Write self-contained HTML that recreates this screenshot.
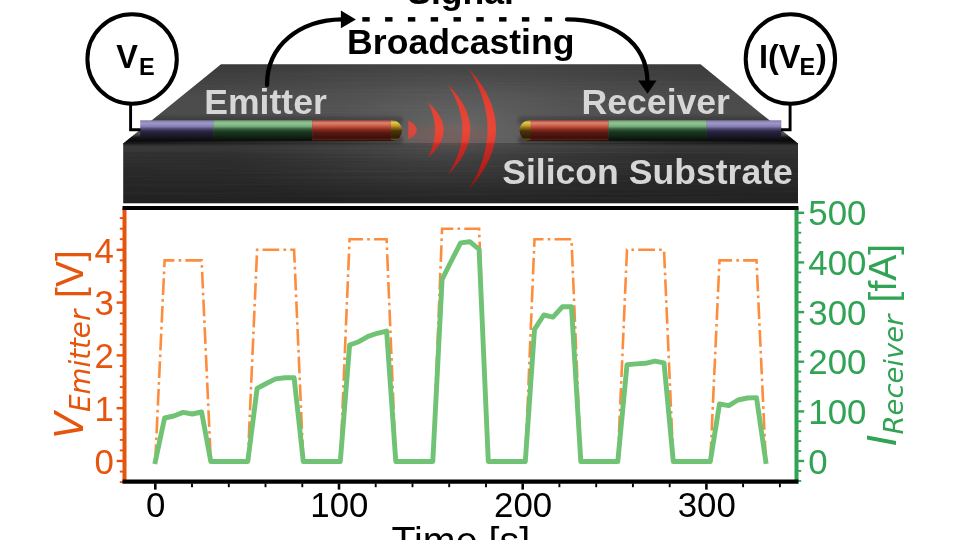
<!DOCTYPE html>
<html lang="en"><head><meta charset="utf-8"><title>Signal Broadcasting</title>
<style>
html,body{margin:0;padding:0;background:#fff;}
body{width:960px;height:540px;overflow:hidden;}
svg{display:block;will-change:transform;}
text{font-family:"Liberation Sans",Arial,Helvetica,sans-serif;}
.b{font-weight:bold;}
.dj{font-family:"DejaVu Sans","Liberation Sans",sans-serif;font-style:oblique;}
</style></head><body>
<svg width="960" height="540" viewBox="0 0 960 540">
<defs>
<linearGradient id="gTop" x1="0" y1="0" x2="0" y2="1"><stop offset="0" stop-color="#393939"/><stop offset="0.4" stop-color="#4a4a4a"/><stop offset="1" stop-color="#515151"/></linearGradient>
<radialGradient id="gHi" gradientUnits="userSpaceOnUse" cx="460" cy="128" r="260" gradientTransform="translate(0,128) scale(1,0.42) translate(0,-128)"><stop offset="0" stop-color="#7c7c7c" stop-opacity="0.55"/><stop offset="0.5" stop-color="#6a6a6a" stop-opacity="0.22"/><stop offset="1" stop-color="#606060" stop-opacity="0"/></radialGradient>
<linearGradient id="gFront" x1="0" y1="0" x2="0" y2="1"><stop offset="0" stop-color="#3a3a3a"/><stop offset="0.22" stop-color="#2d2d2d"/><stop offset="0.6" stop-color="#272727"/><stop offset="1" stop-color="#202020"/></linearGradient>
<radialGradient id="gHiF" gradientUnits="userSpaceOnUse" cx="450" cy="143" r="230" gradientTransform="translate(0,143) scale(1,0.3) translate(0,-143)"><stop offset="0" stop-color="#808080" stop-opacity="0.32"/><stop offset="1" stop-color="#606060" stop-opacity="0"/></radialGradient>
<linearGradient id="gP" x1="0" y1="0" x2="0" y2="1"><stop offset="0" stop-color="#7d77a8"/><stop offset="0.14" stop-color="#9f98c9"/><stop offset="0.3" stop-color="#857eb2"/><stop offset="0.42" stop-color="#4a4570"/><stop offset="0.55" stop-color="#29253f"/><stop offset="0.85" stop-color="#15131f"/><stop offset="1" stop-color="#0a0a0e"/></linearGradient>
<linearGradient id="gG" x1="0" y1="0" x2="0" y2="1"><stop offset="0" stop-color="#6f9f73"/><stop offset="0.14" stop-color="#93c596"/><stop offset="0.3" stop-color="#74aa79"/><stop offset="0.42" stop-color="#37603c"/><stop offset="0.55" stop-color="#1c3a22"/><stop offset="0.85" stop-color="#0e1d12"/><stop offset="1" stop-color="#070d08"/></linearGradient>
<linearGradient id="gR" x1="0" y1="0" x2="0" y2="1"><stop offset="0" stop-color="#a84a38"/><stop offset="0.13" stop-color="#de8470"/><stop offset="0.3" stop-color="#c25444"/><stop offset="0.44" stop-color="#8c2e22"/><stop offset="0.58" stop-color="#5c1a12"/><stop offset="0.86" stop-color="#3a100a"/><stop offset="0.94" stop-color="#5a1c14"/><stop offset="1" stop-color="#1c0705"/></linearGradient>
<linearGradient id="gAu" x1="0" y1="0" x2="0" y2="1"><stop offset="0" stop-color="#8a7424"/><stop offset="0.1" stop-color="#e0cc50"/><stop offset="0.25" stop-color="#c8a22a"/><stop offset="0.38" stop-color="#8a6814"/><stop offset="0.52" stop-color="#4a340a"/><stop offset="0.85" stop-color="#2e1f06"/><stop offset="0.94" stop-color="#6a4e10"/><stop offset="1" stop-color="#140d03"/></linearGradient>
<linearGradient id="gW" gradientUnits="userSpaceOnUse" x1="0" y1="66" x2="0" y2="192"><stop offset="0" stop-color="#c8241c"/><stop offset="0.25" stop-color="#e93c2e"/><stop offset="0.5" stop-color="#ef4636"/><stop offset="0.6" stop-color="#e93e30"/><stop offset="0.62" stop-color="#d02a24"/><stop offset="0.8" stop-color="#bc1e18"/><stop offset="1" stop-color="#8c110c"/></linearGradient>
<linearGradient id="shL" x1="0" y1="0" x2="1" y2="0"><stop offset="0" stop-color="#050505" stop-opacity="0.9"/><stop offset="0.5" stop-color="#050505" stop-opacity="0.6"/><stop offset="1" stop-color="#050505" stop-opacity="0.25"/></linearGradient>
<linearGradient id="shR" x1="1" y1="0" x2="0" y2="0"><stop offset="0" stop-color="#050505" stop-opacity="0.9"/><stop offset="0.5" stop-color="#050505" stop-opacity="0.6"/><stop offset="1" stop-color="#050505" stop-opacity="0.25"/></linearGradient>
<clipPath id="slabClip"><polygon points="221,64.3 700.5,64.3 798,143.5 798,203.3 123.2,203.3 123.2,143.5"/></clipPath>
<filter id="brush" x="0" y="0" width="100%" height="100%"><feTurbulence type="fractalNoise" baseFrequency="0.004 0.9" numOctaves="2" seed="3" result="n"/><feColorMatrix in="n" type="matrix" values="0 0 0 0 1  0 0 0 0 1  0 0 0 0 1  0.9 0 0 0 -0.38"/><feComposite operator="in" in2="SourceGraphic"/></filter>
<filter id="soft" x="-20%" y="-50%" width="140%" height="200%"><feGaussianBlur stdDeviation="1.6"/></filter>
<filter id="glow" x="-50%" y="-50%" width="200%" height="200%"><feGaussianBlur stdDeviation="3"/></filter>
</defs>
<rect width="960" height="540" fill="#fff"/>

<g id="slab">
<polygon points="221,64.3 700.5,64.3 798,143.5 123.2,143.5" fill="url(#gTop)"/>
<polygon points="221,64.3 700.5,64.3 798,143.5 123.2,143.5" fill="url(#gHi)"/>
<rect x="123.2" y="143" width="674.8" height="60.3" fill="url(#gFront)"/>
<rect x="123.2" y="143" width="674.8" height="60.3" fill="url(#gHiF)"/>
<rect x="123.2" y="143" width="674.8" height="60.3" fill="#fff" opacity="0.10" filter="url(#brush)"/>
<polygon points="221,64.3 700.5,64.3 798,143.5 123.2,143.5" fill="#fff" opacity="0.05" filter="url(#brush)"/>
</g>
<g clip-path="url(#slabClip)">
<rect x="139" y="116.5" width="264" height="8" rx="4" fill="#1a1a1a" opacity="0.3" filter="url(#soft)"/>
<rect x="518" y="116.5" width="264" height="8" rx="4" fill="#1a1a1a" opacity="0.3" filter="url(#soft)"/>
<rect x="112" y="136" width="291" height="8" rx="4" fill="url(#shL)" filter="url(#soft)"/>
<rect x="518" y="136" width="291" height="8" rx="4" fill="url(#shR)" filter="url(#soft)"/>
<ellipse cx="448" cy="135" rx="45" ry="10" fill="#ff4030" opacity="0.09" filter="url(#glow)"/>
</g>
<g id="emitter">
<rect x="140.2" y="120.3" width="73.0" height="20.6" fill="url(#gP)"/>
<rect x="213.2" y="120.3" width="99.0" height="20.6" fill="url(#gG)"/>
<rect x="312.2" y="120.3" width="79.8" height="20.6" fill="url(#gR)"/>
<path d="M391,120.3 h1.5 a9.5,10.30 0 0 1 0,20.6 h-1.5 z" fill="url(#gAu)"/>
</g><g id="receiver">
<rect x="529.5" y="120.3" width="79.0" height="20.6" fill="url(#gR)"/>
<rect x="608.5" y="120.3" width="98.3" height="20.6" fill="url(#gG)"/>
<rect x="706.8" y="120.3" width="74.5" height="20.6" fill="url(#gP)"/>
<path d="M530.5,120.3 h-1.5 a9.5,10.30 0 0 0 0,20.6 h1.5 z" fill="url(#gAu)"/>
</g>
<g id="waves" fill="url(#gW)">
<path d="M408.3,120.5 Q416.5,124.5 416.8,130 Q416.5,135.5 408.3,139.3 Z" opacity="0.85"/>
<path d="M428,102.3 Q459.5,130 428,157.7 Q442,130 428,102.3 Z" opacity="0.95"/>
<path d="M448,84.8 Q492.5,130 448,174.7 Q477,130 448,84.8 Z" opacity="0.95"/>
<path d="M468.5,68.3 Q523.5,129 468.5,189.7 Q506.5,129 468.5,68.3 Z" opacity="0.95"/>
</g>
<g class="b" fill="#d6d6d6" font-size="35.6">
<text x="204.2" y="114.2">Emitter</text>
<text x="581.6" y="114.4">Receiver</text>
<text x="502.2" y="184">Silicon Substrate</text>
</g>
<g fill="none" stroke="#000" stroke-width="4">
<circle cx="132.1" cy="59" r="44.7" fill="#fff"/>
<circle cx="790.4" cy="59" r="44.7" fill="#fff"/>
</g><g fill="none" stroke="#000" stroke-width="2.9" stroke-linejoin="miter">
<polyline points="130.6,104 130.6,129.7 140.5,129.7"/>
<polyline points="790.1,104 790.1,129.7 781,129.7"/>
</g>
<g class="b" fill="#000">
<text x="116.2" y="68" font-size="32.5">V<tspan font-size="23.5" dy="7.3" dx="1.2">E</tspan></text>
<text x="759" y="68" font-size="32.5">I(V<tspan font-size="23.5" dy="7.3" dx="-1">E</tspan><tspan dy="-7.3" dx="0.8">)</tspan></text>
</g>
<g fill="none" stroke="#000" stroke-width="4.3" stroke-linecap="round">
<path d="M267,85 C267,45 300,20 342,19.4"/>
<path d="M567,19.4 C610,19.4 647,40 647.5,82"/>
</g>
<polygon points="340.9,10.5 355.9,19.4 340.9,28.3" fill="#000"/>
<polygon points="638.1,80.6 656.5,80.6 647.6,93.8" fill="#000"/>
<g fill="#000">
<rect x="362.3" y="17.1" width="7.4" height="4.5"/>
<rect x="385.1" y="17.1" width="7.4" height="4.5"/>
<rect x="407.9" y="17.1" width="7.4" height="4.5"/>
<rect x="430.7" y="17.1" width="7.4" height="4.5"/>
<rect x="453.5" y="17.1" width="7.4" height="4.5"/>
<rect x="476.3" y="17.1" width="7.4" height="4.5"/>
<rect x="499.1" y="17.1" width="7.4" height="4.5"/>
<rect x="521.9" y="17.1" width="7.4" height="4.5"/>
<rect x="544.7" y="17.1" width="7.4" height="4.5"/>
</g>
<g class="b" fill="#000" font-size="35.6" text-anchor="middle">
<text x="460.6" y="4">Signal</text>
<text x="460.8" y="54.3">Broadcasting</text>
</g>
<g id="chart">
<rect x="124.5" y="208" width="672" height="274" fill="#fff"/>
<polyline points="155.3,461.0 155.3,461.0 164.6,260.4 201.6,260.4 210.8,461.0 247.8,461.0 257.1,249.8 294.1,249.8 303.3,461.0 340.3,461.0 349.6,239.2 386.6,239.2 395.8,461.0 432.8,461.0 442.1,228.7 479.1,228.7 488.3,461.0 525.3,461.0 534.5,239.2 571.5,239.2 580.8,461.0 617.8,461.0 627.0,249.8 664.0,249.8 673.3,461.0 710.3,461.0 719.5,260.4 756.5,260.4 765.8,461.0" fill="none" stroke="#fd8d3c" stroke-width="2.6" stroke-dasharray="16.7 4.2 2.6 4.2" stroke-linejoin="miter"/>
<polyline points="155.3,461.5 164.6,418.0 173.8,416.0 183.1,412.4 192.3,414.0 201.6,412.0 210.8,461.5 247.8,461.5 257.1,388.4 266.3,383.5 275.6,378.9 284.8,377.8 294.1,377.8 303.3,461.5 340.3,461.5 349.6,345.0 358.8,341.7 368.1,336.4 377.3,333.3 386.6,331.1 395.8,461.5 432.8,461.5 442.1,279.4 451.3,261.0 460.6,242.9 469.8,241.7 479.1,249.4 488.3,461.5 525.3,461.5 534.5,329.4 543.8,315.0 553.0,317.2 562.3,306.8 571.5,306.8 580.8,461.5 617.8,461.5 627.0,364.7 636.3,363.9 645.5,363.3 654.8,361.1 664.0,362.8 673.3,461.5 710.3,461.5 719.5,404.0 728.8,405.6 738.0,400.0 747.3,398.0 756.5,397.6 765.8,461.5" fill="none" stroke="#70c374" stroke-width="4.9" stroke-linejoin="round" stroke-linecap="square"/>
<g stroke="#e6550d" fill="none">
<line x1="119.8" x2="123" y1="482.1" y2="482.1" stroke-width="1.9"/>
<line x1="119.8" x2="123" y1="471.6" y2="471.6" stroke-width="1.9"/>
<line x1="116.6" x2="123" y1="461.0" y2="461.0" stroke-width="2.4"/>
<line x1="119.8" x2="123" y1="450.4" y2="450.4" stroke-width="1.9"/>
<line x1="119.8" x2="123" y1="439.9" y2="439.9" stroke-width="1.9"/>
<line x1="119.8" x2="123" y1="429.3" y2="429.3" stroke-width="1.9"/>
<line x1="119.8" x2="123" y1="418.8" y2="418.8" stroke-width="1.9"/>
<line x1="116.6" x2="123" y1="408.2" y2="408.2" stroke-width="2.4"/>
<line x1="119.8" x2="123" y1="397.6" y2="397.6" stroke-width="1.9"/>
<line x1="119.8" x2="123" y1="387.1" y2="387.1" stroke-width="1.9"/>
<line x1="119.8" x2="123" y1="376.5" y2="376.5" stroke-width="1.9"/>
<line x1="119.8" x2="123" y1="366.0" y2="366.0" stroke-width="1.9"/>
<line x1="116.6" x2="123" y1="355.4" y2="355.4" stroke-width="2.4"/>
<line x1="119.8" x2="123" y1="344.8" y2="344.8" stroke-width="1.9"/>
<line x1="119.8" x2="123" y1="334.3" y2="334.3" stroke-width="1.9"/>
<line x1="119.8" x2="123" y1="323.7" y2="323.7" stroke-width="1.9"/>
<line x1="119.8" x2="123" y1="313.2" y2="313.2" stroke-width="1.9"/>
<line x1="116.6" x2="123" y1="302.6" y2="302.6" stroke-width="2.4"/>
<line x1="119.8" x2="123" y1="292.0" y2="292.0" stroke-width="1.9"/>
<line x1="119.8" x2="123" y1="281.5" y2="281.5" stroke-width="1.9"/>
<line x1="119.8" x2="123" y1="270.9" y2="270.9" stroke-width="1.9"/>
<line x1="119.8" x2="123" y1="260.4" y2="260.4" stroke-width="1.9"/>
<line x1="116.6" x2="123" y1="249.8" y2="249.8" stroke-width="2.4"/>
<line x1="119.8" x2="123" y1="239.2" y2="239.2" stroke-width="1.9"/>
<line x1="119.8" x2="123" y1="228.7" y2="228.7" stroke-width="1.9"/>
<line x1="119.8" x2="123" y1="218.1" y2="218.1" stroke-width="1.9"/>
<line x1="124.5" x2="124.5" y1="208" y2="482" stroke-width="4"/>
</g>
<g stroke="#31a354" fill="none">
<line x1="798" x2="801.2" y1="480.9" y2="480.9" stroke-width="1.9"/>
<line x1="798" x2="801.2" y1="470.9" y2="470.9" stroke-width="1.9"/>
<line x1="798" x2="804.2" y1="461.0" y2="461.0" stroke-width="2.4"/>
<line x1="798" x2="801.2" y1="451.1" y2="451.1" stroke-width="1.9"/>
<line x1="798" x2="801.2" y1="441.1" y2="441.1" stroke-width="1.9"/>
<line x1="798" x2="801.2" y1="431.2" y2="431.2" stroke-width="1.9"/>
<line x1="798" x2="801.2" y1="421.3" y2="421.3" stroke-width="1.9"/>
<line x1="798" x2="804.2" y1="411.4" y2="411.4" stroke-width="2.4"/>
<line x1="798" x2="801.2" y1="401.4" y2="401.4" stroke-width="1.9"/>
<line x1="798" x2="801.2" y1="391.5" y2="391.5" stroke-width="1.9"/>
<line x1="798" x2="801.2" y1="381.6" y2="381.6" stroke-width="1.9"/>
<line x1="798" x2="801.2" y1="371.6" y2="371.6" stroke-width="1.9"/>
<line x1="798" x2="804.2" y1="361.7" y2="361.7" stroke-width="2.4"/>
<line x1="798" x2="801.2" y1="351.8" y2="351.8" stroke-width="1.9"/>
<line x1="798" x2="801.2" y1="341.9" y2="341.9" stroke-width="1.9"/>
<line x1="798" x2="801.2" y1="331.9" y2="331.9" stroke-width="1.9"/>
<line x1="798" x2="801.2" y1="322.0" y2="322.0" stroke-width="1.9"/>
<line x1="798" x2="804.2" y1="312.1" y2="312.1" stroke-width="2.4"/>
<line x1="798" x2="801.2" y1="302.2" y2="302.2" stroke-width="1.9"/>
<line x1="798" x2="801.2" y1="292.2" y2="292.2" stroke-width="1.9"/>
<line x1="798" x2="801.2" y1="282.3" y2="282.3" stroke-width="1.9"/>
<line x1="798" x2="801.2" y1="272.4" y2="272.4" stroke-width="1.9"/>
<line x1="798" x2="804.2" y1="262.4" y2="262.4" stroke-width="2.4"/>
<line x1="798" x2="801.2" y1="252.5" y2="252.5" stroke-width="1.9"/>
<line x1="798" x2="801.2" y1="242.6" y2="242.6" stroke-width="1.9"/>
<line x1="798" x2="801.2" y1="232.7" y2="232.7" stroke-width="1.9"/>
<line x1="798" x2="801.2" y1="222.7" y2="222.7" stroke-width="1.9"/>
<line x1="798" x2="804.2" y1="212.8" y2="212.8" stroke-width="2.4"/>
<line x1="796.5" x2="796.5" y1="208" y2="482" stroke-width="4"/>
</g>
<g stroke="#000" fill="none">
<line y1="483.5" y2="489.6" x1="155.3" x2="155.3" stroke-width="2.6"/>
<line y1="483.5" y2="487.2" x1="192.0" x2="192.0" stroke-width="1.9"/>
<line y1="483.5" y2="487.2" x1="228.8" x2="228.8" stroke-width="1.9"/>
<line y1="483.5" y2="487.2" x1="265.5" x2="265.5" stroke-width="1.9"/>
<line y1="483.5" y2="487.2" x1="302.3" x2="302.3" stroke-width="1.9"/>
<line y1="483.5" y2="489.6" x1="339.0" x2="339.0" stroke-width="2.6"/>
<line y1="483.5" y2="487.2" x1="375.7" x2="375.7" stroke-width="1.9"/>
<line y1="483.5" y2="487.2" x1="412.5" x2="412.5" stroke-width="1.9"/>
<line y1="483.5" y2="487.2" x1="449.2" x2="449.2" stroke-width="1.9"/>
<line y1="483.5" y2="487.2" x1="486.0" x2="486.0" stroke-width="1.9"/>
<line y1="483.5" y2="489.6" x1="522.7" x2="522.7" stroke-width="2.6"/>
<line y1="483.5" y2="487.2" x1="559.4" x2="559.4" stroke-width="1.9"/>
<line y1="483.5" y2="487.2" x1="596.2" x2="596.2" stroke-width="1.9"/>
<line y1="483.5" y2="487.2" x1="632.9" x2="632.9" stroke-width="1.9"/>
<line y1="483.5" y2="487.2" x1="669.7" x2="669.7" stroke-width="1.9"/>
<line y1="483.5" y2="489.6" x1="706.4" x2="706.4" stroke-width="2.6"/>
<line y1="483.5" y2="487.2" x1="743.1" x2="743.1" stroke-width="1.9"/>
<line y1="483.5" y2="487.2" x1="779.9" x2="779.9" stroke-width="1.9"/>
<line x1="122.5" x2="798.5" y1="208" y2="208" stroke-width="4"/>
<line x1="122.5" x2="798.5" y1="481.6" y2="481.6" stroke-width="4.3"/>
</g>
<g font-size="34.8" fill="#e6550d" text-anchor="end">
<text x="113.8" y="473.8">0</text>
<text x="113.8" y="421.0">1</text>
<text x="113.8" y="368.2">2</text>
<text x="113.8" y="315.4">3</text>
<text x="113.8" y="262.6">4</text>
</g>
<g font-size="34.8" fill="#31a354">
<text x="808.3" y="473.5">0</text>
<text x="808.3" y="423.9">100</text>
<text x="808.3" y="374.2">200</text>
<text x="808.3" y="324.6">300</text>
<text x="808.3" y="274.9">400</text>
<text x="808.3" y="225.3">500</text>
</g>
<g font-size="34.8" fill="#000" text-anchor="middle">
<text x="155.7" y="516.9">0</text>
<text x="339.4" y="516.9">100</text>
<text x="523.1" y="516.9">200</text>
<text x="706.8" y="516.9">300</text>
</g>
<text x="460.8" y="553.9" font-size="39.4" fill="#000" text-anchor="middle">Time [s]</text>
<text transform="translate(83.3,438.7) rotate(-90)" fill="#e6550d" font-size="39"><tspan class="dj">V</tspan><tspan class="dj" font-size="27.7" dy="6.8">Emitter</tspan><tspan dy="-6.8" dx="1"> [V]</tspan></text>
<text transform="translate(895.6,446) rotate(-90)" fill="#31a354" font-size="39"><tspan class="dj">I</tspan><tspan class="dj" font-size="27.4" dy="7.5">Receiver</tspan><tspan dy="-7.5" dx="1.5"> [fA]</tspan></text>
</g>
</svg></body></html>
